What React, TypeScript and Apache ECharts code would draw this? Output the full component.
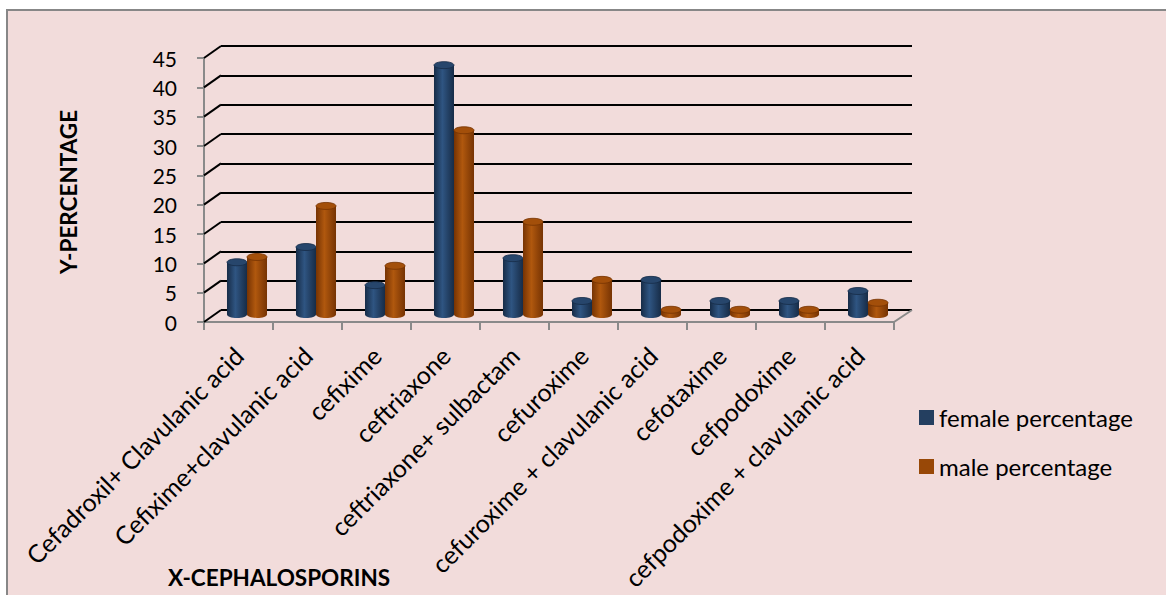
import React, { useEffect, useRef } from "react";
import * as echarts from "echarts";

const categories = [
  "Cefadroxil+ Clavulanic acid",
  "Cefixime+clavulanic acid",
  "cefixime",
  "ceftriaxone",
  "ceftriaxone+ sulbactam",
  "cefuroxime",
  "cefuroxime + clavulanic acid",
  "cefotaxime",
  "cefpodoxime",
  "cefpodoxime + clavulanic acid",
];
const female = [9.5, 12.1, 5.6, 43.1, 10.2, 2.9, 6.5, 2.9, 2.9, 4.6];
const male = [10.4, 19.1, 8.9, 32.0, 16.4, 6.5, 1.4, 1.4, 1.4, 2.6];
const yTicks = [0, 5, 10, 15, 20, 25, 30, 35, 40, 45];
const seriesNames = ["female percentage", "male percentage"];

const FONT = "Lato";

function cylinder(side: number, edge: string, mid: string, topFill: string) {
  return (params: any, api: any) => {
    const idx = api.value(0);
    const v = api.value(1);
    const base = api.coord([idx, 0]);
    const top = api.coord([idx, v]);
    const bw = api.size([1, 0])[0] * 0.29;
    const x = side < 0 ? base[0] - bw : base[0];
    const cx = x + bw / 2;
    const ry = 3.5;
    const yb = base[1] - ry;
    const yt = top[1];
    const grad = new echarts.graphic.LinearGradient(0, 0, 1, 0, [
      { offset: 0, color: edge },
      { offset: 0.42, color: mid },
      { offset: 1, color: edge },
    ]);
    return {
      type: "group",
      children: [
        { type: "ellipse", shape: { cx, cy: yb, rx: bw / 2, ry }, style: { fill: grad } },
        { type: "rect", shape: { x, y: yt, width: bw, height: Math.max(0, yb - yt) }, style: { fill: grad } },
        {
          type: "ellipse",
          shape: { cx, cy: yt, rx: bw / 2, ry },
          style: { fill: topFill, stroke: edge, lineWidth: 0.8 },
        },
      ],
    };
  };
}

export default function App() {
  const ref = useRef<HTMLDivElement>(null);
  useEffect(() => {
    const chart = echarts.init(ref.current as HTMLDivElement, null, { renderer: "svg" });
    const gray = "#8a8a8a";
    const option: any = {
      animation: false,
      backgroundColor: "transparent",
      grid: [
        { left: 204, top: 58, width: 690, height: 264 },
        { left: 221, top: 46, width: 691, height: 264 },
        { left: 212.5, top: 54, width: 690, height: 264 },
      ],
      xAxis: [
        {
          gridIndex: 0,
          type: "category",
          data: categories,
          boundaryGap: true,
          axisLine: { lineStyle: { color: gray, width: 2 } },
          axisTick: { show: true, interval: 0, length: 8, lineStyle: { color: gray, width: 2 } },
          axisLabel: {
            interval: 0,
            rotate: 45,
            margin: 29,
            color: "#000",
            fontSize: 25,
            fontFamily: FONT,
          },
        },
        {
          gridIndex: 1,
          type: "category",
          data: categories,
          axisLine: { show: false },
          axisTick: { show: false },
          axisLabel: { show: false },
        },
        {
          gridIndex: 2,
          type: "category",
          data: categories,
          axisLine: { show: false },
          axisTick: { show: false },
          axisLabel: { show: false },
        },
      ],
      yAxis: [
        {
          gridIndex: 0,
          type: "value",
          min: 0,
          max: 45,
          interval: 5,
          axisLine: { show: true, lineStyle: { color: gray, width: 2 } },
          axisTick: { show: true, length: 7, lineStyle: { color: gray, width: 2 } },
          axisLabel: { margin: 27, color: "#000", fontSize: 21, fontFamily: FONT },
          splitLine: { show: false },
        },
        {
          gridIndex: 1,
          type: "value",
          min: 0,
          max: 45,
          interval: 5,
          axisLine: { show: false },
          axisTick: { show: false },
          axisLabel: { show: false },
          splitLine: { show: true, lineStyle: { color: "#000", width: 2 } },
        },
        {
          gridIndex: 2,
          type: "value",
          min: 0,
          max: 45,
          interval: 5,
          axisLine: { show: false },
          axisTick: { show: false },
          axisLabel: { show: false },
          splitLine: { show: false },
        },
      ],
      legend: {
        orient: "vertical",
        left: 914,
        top: 400,
        itemWidth: 15,
        itemHeight: 15,
        itemGap: 24,
        icon: "rect",
        data: seriesNames,
        textStyle: { fontSize: 24, fontFamily: FONT, color: "#000", lineHeight: 25 },
      },
      graphic: [
        {
          type: "text",
          x: 68,
          y: 192,
          rotation: Math.PI / 2,
          style: {
            text: "Y-PERCENTAGE",
            fontSize: 22.5,
            fontWeight: "bold",
            fontFamily: FONT,
            fill: "#000",
            align: "center",
            verticalAlign: "middle",
          },
        },
        {
          type: "text",
          x: 279,
          y: 577,
          style: {
            text: "X-CEPHALOSPORINS",
            fontSize: 22.5,
            fontWeight: "bold",
            fontFamily: FONT,
            fill: "#000",
            align: "center",
            verticalAlign: "middle",
          },
        },
      ],
      series: [
        {
          type: "custom",
          name: "walls",
          xAxisIndex: 0,
          yAxisIndex: 0,
          silent: true,
          z: 1,
          data: yTicks.map((t) => [0, t]),
          renderItem: (params: any, api: any) => {
            const cs = params.coordSys;
            const v = api.value(1);
            const y = api.coord([0, v])[1];
            const children: any[] = [
              {
                type: "line",
                shape: { x1: cs.x, y1: y, x2: cs.x + 17, y2: y - 12 },
                style: { stroke: "#000", lineWidth: 2 },
              },
            ];
            if (v === 0) {
              children.push({
                type: "line",
                shape: { x1: cs.x + cs.width, y1: y, x2: cs.x + cs.width + 18, y2: y - 12 },
                style: { stroke: gray, lineWidth: 2 },
              });
            }
            return { type: "group", children };
          },
        },
        {
          type: "custom",
          name: seriesNames[0],
          xAxisIndex: 2,
          yAxisIndex: 2,
          z: 5,
          itemStyle: { color: "#243F60" },
          data: female.map((v, i) => [i, v]),
          renderItem: cylinder(-1, "#172c47", "#2f5582", "#27466c"),
        },
        {
          type: "custom",
          name: seriesNames[1],
          xAxisIndex: 2,
          yAxisIndex: 2,
          z: 5,
          itemStyle: { color: "#984807" },
          data: male.map((v, i) => [i, v]),
          renderItem: cylinder(1, "#763303", "#b0580e", "#a34f0a"),
        },
      ],
    };
    chart.setOption(option);
    return () => chart.dispose();
  }, []);
  return (
    <div
      style={{
        position: "absolute",
        left: 0,
        top: 0,
        width: 1166,
        height: 595,
        background: "#fff",
        overflow: "hidden",
      }}
    >
      <div
        style={{
          position: "absolute",
          left: 6,
          top: 9,
          width: 1200,
          height: 700,
          background: "#F2DCDB",
          border: "2px solid #878787",
        }}
      />
      <div ref={ref} style={{ position: "absolute", left: 0, top: 0, width: 1166, height: 595 }} />
    </div>
  );
}
